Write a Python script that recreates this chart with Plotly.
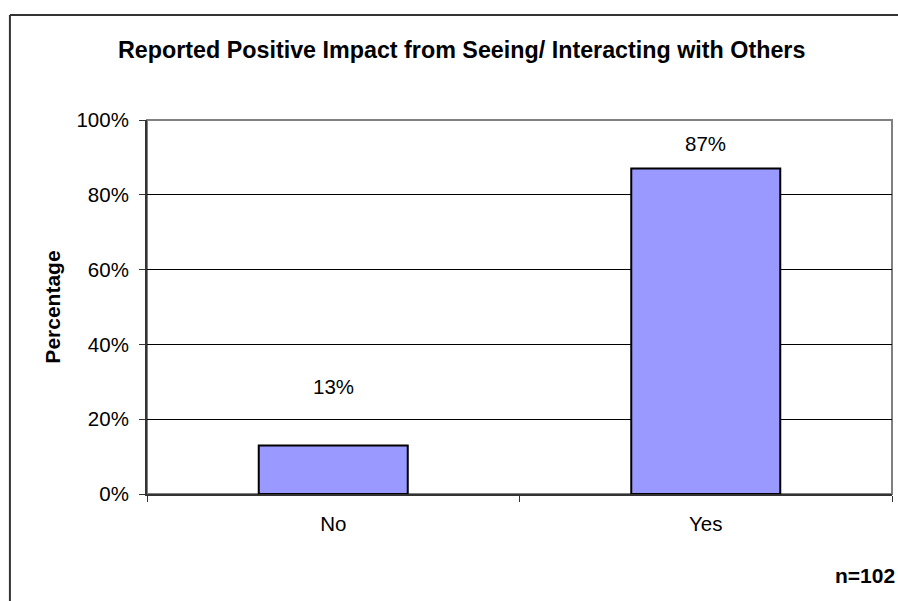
import plotly.graph_objects as go

# Survey responses
categories = ["No", "Yes"]
percentages = [13, 87]
label_offsets_px = [59, 25]  # distance of each value label above its bar
sample_note = "n=102"
chart_title = "Reported Positive Impact from Seeing/ Interacting with Others"
y_ticks = [0, 20, 40, 60, 80, 100]

FONT = "Liberation Sans, Arial, sans-serif"
TICK_SIZE = 20.5

fig = go.Figure()
fig.add_trace(go.Bar(
    x=categories,
    y=percentages,
    width=0.4,
    marker=dict(color="#9999FF", line=dict(color="#000000", width=2)),
    hoverinfo="skip",
))

# value labels above the bars
for cat, val, off in zip(categories, percentages, label_offsets_px):
    fig.add_annotation(
        x=cat, y=val, xref="x", yref="y",
        text=f"{val}%", showarrow=False,
        yanchor="middle", yshift=off,
        font=dict(family=FONT, size=TICK_SIZE, color="#000000"),
    )

# chart title
fig.add_annotation(
    x=0.422, y=1.188, xref="paper", yref="paper",
    text=f"<b>{chart_title}</b>", showarrow=False,
    xanchor="center", yanchor="middle",
    font=dict(family=FONT, size=23.3, color="#000000"),
)

# sample-size note
fig.add_annotation(
    x=0.921, y=-0.217, xref="paper", yref="paper",
    text=f"<b>{sample_note}</b>", showarrow=False,
    xanchor="left", yanchor="middle",
    font=dict(family=FONT, size=21, color="#000000"),
)

# plot-area frame (top and right edges in grey)
fig.add_shape(type="rect", xref="paper", yref="paper",
              x0=0, x1=1, y0=0, y1=1,
              line=dict(color="#808080", width=2), layer="below")

# outer chart border
fig.add_shape(type="line", xref="paper", yref="paper",
              x0=-0.184, x1=-0.184, y0=-0.4, y1=1.281,
              line=dict(color="#333333", width=2))
fig.add_shape(type="line", xref="paper", yref="paper",
              x0=-0.184, x1=1.2, y0=1.281, y1=1.281,
              line=dict(color="#333333", width=2))

fig.update_layout(
    width=898, height=601,
    margin=dict(l=147, r=6, t=120, b=107),
    paper_bgcolor="#FFFFFF", plot_bgcolor="#FFFFFF",
    showlegend=False,
    font=dict(family=FONT, size=TICK_SIZE, color="#000000"),
)

fig.update_xaxes(
    type="category",
    tickson="boundaries",
    ticks="outside", ticklen=6, tickcolor="#333333", tickwidth=1,
    showline=True, linecolor="#333333", linewidth=2,
    showgrid=False,
    ticklabelstandoff=10,
    tickfont=dict(family=FONT, size=TICK_SIZE, color="#000000"),
    fixedrange=True,
)

fig.update_yaxes(
    range=[0, 100],
    tickvals=y_ticks,
    ticktext=[f"{v}%" for v in y_ticks],
    ticks="outside", ticklen=6, tickcolor="#333333", tickwidth=1,
    showline=True, linecolor="#333333", linewidth=2,
    showgrid=True, gridcolor="#000000", gridwidth=1,
    zeroline=False,
    ticklabelstandoff=6,
    tickfont=dict(family=FONT, size=TICK_SIZE, color="#000000"),
    title=dict(text="<b>Percentage</b>", font=dict(family=FONT, size=21, color="#000000"), standoff=10),
    fixedrange=True,
)

fig.write_html("out.html")
